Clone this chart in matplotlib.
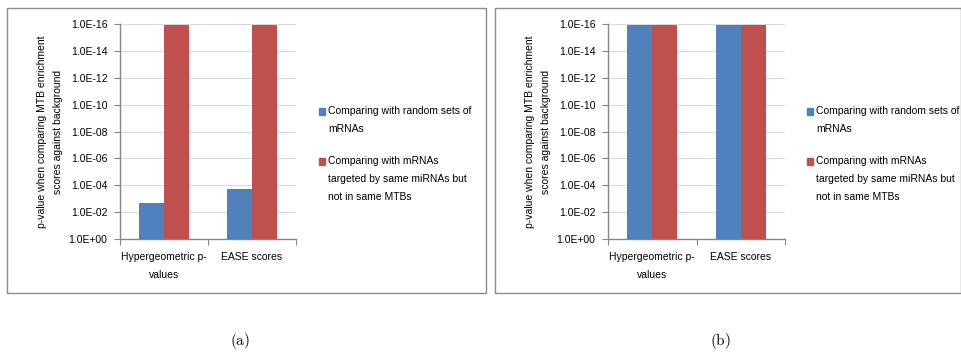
import numpy as np
import matplotlib.pyplot as plt
from matplotlib.patches import Rectangle
from matplotlib.ticker import FixedLocator, FuncFormatter

plt.rcParams['font.family'] = ['Liberation Sans', 'DejaVu Sans']
plt.rcParams['mathtext.fontset'] = 'cm'

# data
categories = ["Hypergeometric p-\nvalues", "EASE scores"]
series_names = ["Comparing with random sets of\nmRNAs",
                "Comparing with mRNAs\ntargeted by same miRNAs but\nnot in same MTBs"]
panel_a_random = [2.1e-3, 1.9e-4]
panel_a_same = [1e-16, 1e-16]
panel_b_random = [1e-16, 1e-16]
panel_b_same = [1e-16, 1e-16]

blue = "#4F81BD"
red = "#C0504D"
W, H = 962, 354

fig = plt.figure(figsize=(W / 100, H / 100), dpi=100)

def px(x0, y0, x1, y1):
    # pixel box (top-left origin) -> figure fraction rect
    return [x0 / W, 1 - y1 / H, (x1 - x0) / W, (y1 - y0) / H]

def sci(v, pos):
    e = int(round(np.log10(v)))
    return f"1.0E{e:+03d}"

def panel(rect, box, random_vals, same_vals, cap, cap_x):
    # frame round the panel
    b = px(*box)
    fig.add_artist(Rectangle((b[0], b[1]), b[2], b[3], transform=fig.transFigure,
                             fill=False, edgecolor="#8c8c8c", linewidth=1.0))
    ax = fig.add_axes(px(*rect))
    x = np.arange(len(categories))
    w = 0.285
    ax.bar(x - w / 2, np.array(random_vals) - 1, bottom=1, width=w, color=blue,
           edgecolor="none", zorder=3)
    ax.bar(x + w / 2, np.array(same_vals) - 1, bottom=1, width=w, color=red,
           edgecolor="none", zorder=3)
    ax.set_yscale("log")
    ax.set_ylim(1, 1e-16)
    ax.set_xlim(-0.5, 1.5)
    ax.yaxis.set_major_locator(FixedLocator([10.0 ** -k for k in range(0, 17, 2)]))
    ax.yaxis.set_minor_locator(FixedLocator([]))
    ax.yaxis.set_major_formatter(FuncFormatter(sci))
    ax.grid(axis="y", color="#d9d9d9", linewidth=0.8, zorder=0)
    ax.set_xticks([-0.5, 0.5, 1.5])
    ax.set_xticklabels([])
    ax.set_xticks(x, minor=True)
    ax.set_xticklabels(categories, minor=True, fontsize=7.5, linespacing=2.0)
    ax.tick_params(axis="x", which="major", length=4, color="#868686", direction="out")
    ax.tick_params(axis="x", which="minor", length=0, pad=9)
    ax.tick_params(axis="y", length=4, color="#868686", labelsize=7.5, pad=5)
    for s in ["top", "right"]:
        ax.spines[s].set_visible(False)
    for s in ["left", "bottom"]:
        ax.spines[s].set_color("#868686")
        ax.spines[s].set_linewidth(1.0)
    ax.set_ylabel("p-value when comparing MTB enrichment\nscores against background",
                  fontsize=7.5, linespacing=1.7, labelpad=4)
    # legend: square next to the first line of each entry
    x0 = rect[0]
    first_lines = [111, 161]
    for name, col, y in zip(series_names, [blue, red], first_lines):
        sq = px(x0 + 199, y - 3.5, x0 + 205.5, y + 3.5)
        fig.add_artist(Rectangle((sq[0], sq[1]), sq[2], sq[3],
                                 transform=fig.transFigure, color=col))
        for i, line in enumerate(name.split("\n")):
            fig.text((x0 + 208) / W, 1 - (y + 18 * i) / H, line, fontsize=7.5,
                     ha="left", va="center")
    fig.text(cap_x / W, 1 - 341 / H, cap, fontsize=11, ha="center", va="center")
    return ax

panel((120, 24, 296, 239), (7, 8, 486, 293), panel_a_random, panel_a_same,
      r"$(\mathrm{a})$", 240)
panel((608, 24, 785, 239), (495, 8, 961, 293), panel_b_random, panel_b_same,
      r"$(\mathrm{b})$", 720)

fig.savefig("out.png", dpi=100)
